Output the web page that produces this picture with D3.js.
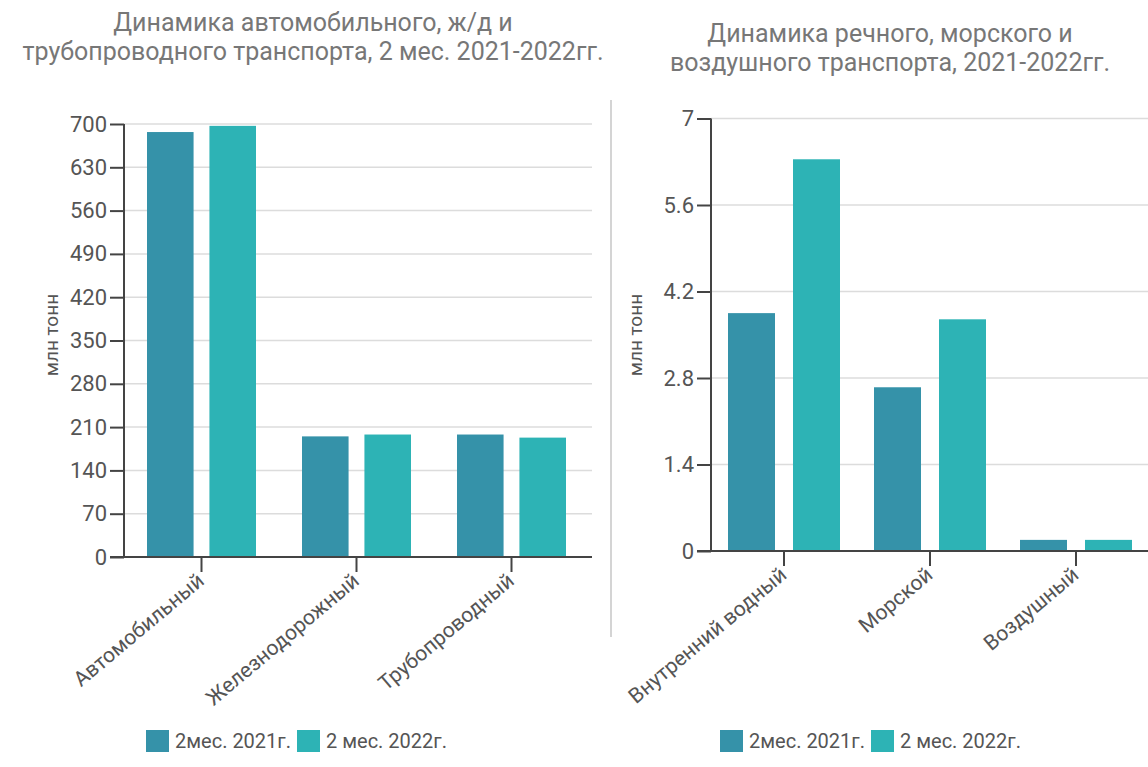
<!DOCTYPE html>
<html>
<head>
<meta charset="utf-8">
<script src="https://cdn.jsdelivr.net/npm/d3@7"></script>
<style>
  body { margin: 0; background: #fff; }
  svg { font-family: Roboto, "Noto Sans", sans-serif; }
</style>
</head>
<body>
<svg id="chart" width="1148" height="767"></svg>
<script>
// data
var series = ["2мес. 2021г.", "2 мес. 2022г."]
var leftCats = ["Автомобильный", "Железнодорожный", "Трубопроводный"]
var left2021 = [687, 195, 198]
var left2022 = [697, 198, 193]
var leftTicks = [0, 70, 140, 210, 280, 350, 420, 490, 560, 630, 700]

var rightCats = ["Внутренний водный", "Морской", "Воздушный"]
var right2021 = [3.85, 2.65, 0.18]
var right2022 = [6.34, 3.75, 0.18]
var rightTicks = [0, 1.4, 2.8, 4.2, 5.6, 7]

var colors = ["#3592a9", "#2db3b5"]

var svg = d3.select("#chart")

// divider between the two charts
svg.append("line")
    .attr("x1", 611).attr("x2", 611)
    .attr("y1", 100).attr("y2", 637)
    .attr("stroke", "#d4d4d4")
    .attr("stroke-width", 2)

function drawChart(opt) {
    var g = svg.append("g")

    var x = d3.scaleBand()
        .domain(opt.cats)
        .range(opt.xRange)

    var xSub = d3.scaleBand()
        .domain(series)
        .range(opt.subRange)
        .paddingInner(opt.subPad)

    var y = d3.scaleLinear()
        .domain([0, d3.max(opt.ticks)])
        .range(opt.yRange)

    // title
    g.append("text")
        .attr("x", opt.titleX)
        .attr("y", opt.titleY)
        .attr("text-anchor", "middle")
        .style("font-size", "25px")
        .style("fill", "#777")
        .selectAll("tspan")
        .data(opt.title)
        .join("tspan")
        .attr("x", opt.titleX)
        .attr("dy", (d, i) => i == 0 ? 0 : 29)
        .text(d => d)

    // grid
    g.append("g")
        .selectAll("line")
        .data(opt.ticks.slice(1))
        .join("line")
        .attr("x1", opt.xRange[0])
        .attr("x2", opt.gridEnd)
        .attr("y1", d => y(d))
        .attr("y2", d => y(d))
        .attr("stroke", "#dcdcdc")
        .attr("stroke-width", 1.5)

    // bars
    var rows = opt.cats.map((c, i) => ({ cat: c, vals: [opt.v2021[i], opt.v2022[i]] }))
    g.append("g")
        .selectAll("g")
        .data(rows)
        .join("g")
        .attr("transform", d => "translate(" + x(d.cat) + ",0)")
        .selectAll("rect")
        .data(d => d.vals.map((v, i) => ({ key: series[i], value: v, i: i })))
        .join("rect")
        .attr("x", d => xSub(d.key))
        .attr("width", xSub.bandwidth())
        .attr("y", d => y(d.value))
        .attr("height", d => y(0) - y(d.value))
        .attr("fill", d => colors[d.i])

    // y axis
    var yAxis = g.append("g")
        .attr("transform", "translate(" + opt.xRange[0] + ",0)")
        .call(d3.axisLeft(y).tickValues(opt.ticks).tickSize(14).tickPadding(3)
            .tickFormat(d => String(d)))
    yAxis.select(".domain").attr("stroke", "#444").attr("stroke-width", 2).attr("d",
        "M0," + y(0) + "V" + y(d3.max(opt.ticks)))
    yAxis.selectAll(".tick line").attr("stroke", "#444").attr("stroke-width", 2)
    yAxis.selectAll(".tick text").style("font-size", "22px").style("fill", "#555")
        .style("font-family", "Roboto")

    // x axis
    var xAxis = g.append("g")
        .attr("transform", "translate(0," + y(0) + ")")
        .call(d3.axisBottom(x).tickSize(15).tickSizeOuter(0).tickFormat(""))
    xAxis.select(".domain").attr("stroke", "#444").attr("stroke-width", 2)
        .attr("d", "M" + (opt.xRange[0] - 14) + ",0H" + opt.gridEnd)
    xAxis.selectAll(".tick line").attr("stroke", "#444").attr("stroke-width", 2)

    g.append("g")
        .selectAll("text")
        .data(opt.cats)
        .join("text")
        .attr("transform", d => "translate(" + (x(d) + x.bandwidth() / 2 + 4) + "," + (y(0) + 26) + ") rotate(-40)")
        .attr("text-anchor", "end")
        .style("font-size", "21px")
        .style("fill", "#555")
        .text(d => d)

    // y label
    g.append("text")
        .attr("transform", "translate(" + opt.labelX + "," + opt.labelY + ") rotate(-90)")
        .attr("text-anchor", "middle")
        .style("font-size", "19px")
        .style("fill", "#555")
        .text("млн тонн")

    // legend
    var lg = g.append("g")
        .attr("transform", "translate(" + opt.legendX + "," + opt.legendY + ")")
    var offs = [0, 151]
    lg.selectAll("rect")
        .data(series)
        .join("rect")
        .attr("x", (d, i) => offs[i])
        .attr("y", -11)
        .attr("width", 23)
        .attr("height", 22)
        .attr("fill", (d, i) => colors[i])
    lg.selectAll("text")
        .data(series)
        .join("text")
        .attr("x", (d, i) => offs[i] + 29)
        .attr("y", 0)
        .attr("dy", "0.36em")
        .style("font-size", "20px")
        .style("fill", "#555")
        .text(d => d)
}

drawChart({
    cats: leftCats, v2021: left2021, v2022: left2022, ticks: leftTicks,
    xRange: [124, 589], gridEnd: 592, yRange: [557, 124],
    subRange: [23, 132], subPad: 0.254,
    title: ["Динамика автомобильного, ж/д и", "трубопроводного транспорта, 2 мес. 2021-2022гг."],
    titleX: 313, titleY: 31,
    labelX: 58, labelY: 335,
    legendX: 146, legendY: 741
})

drawChart({
    cats: rightCats, v2021: right2021, v2022: right2022, ticks: rightTicks,
    xRange: [711, 1149], gridEnd: 1148, yRange: [551, 118.5],
    subRange: [17, 129], subPad: 0.277,
    title: ["Динамика речного, морского и", "воздушного транспорта, 2021-2022гг."],
    titleX: 890, titleY: 42,
    labelX: 642, labelY: 335,
    legendX: 720, legendY: 741
})
</script>
</body>
</html>
